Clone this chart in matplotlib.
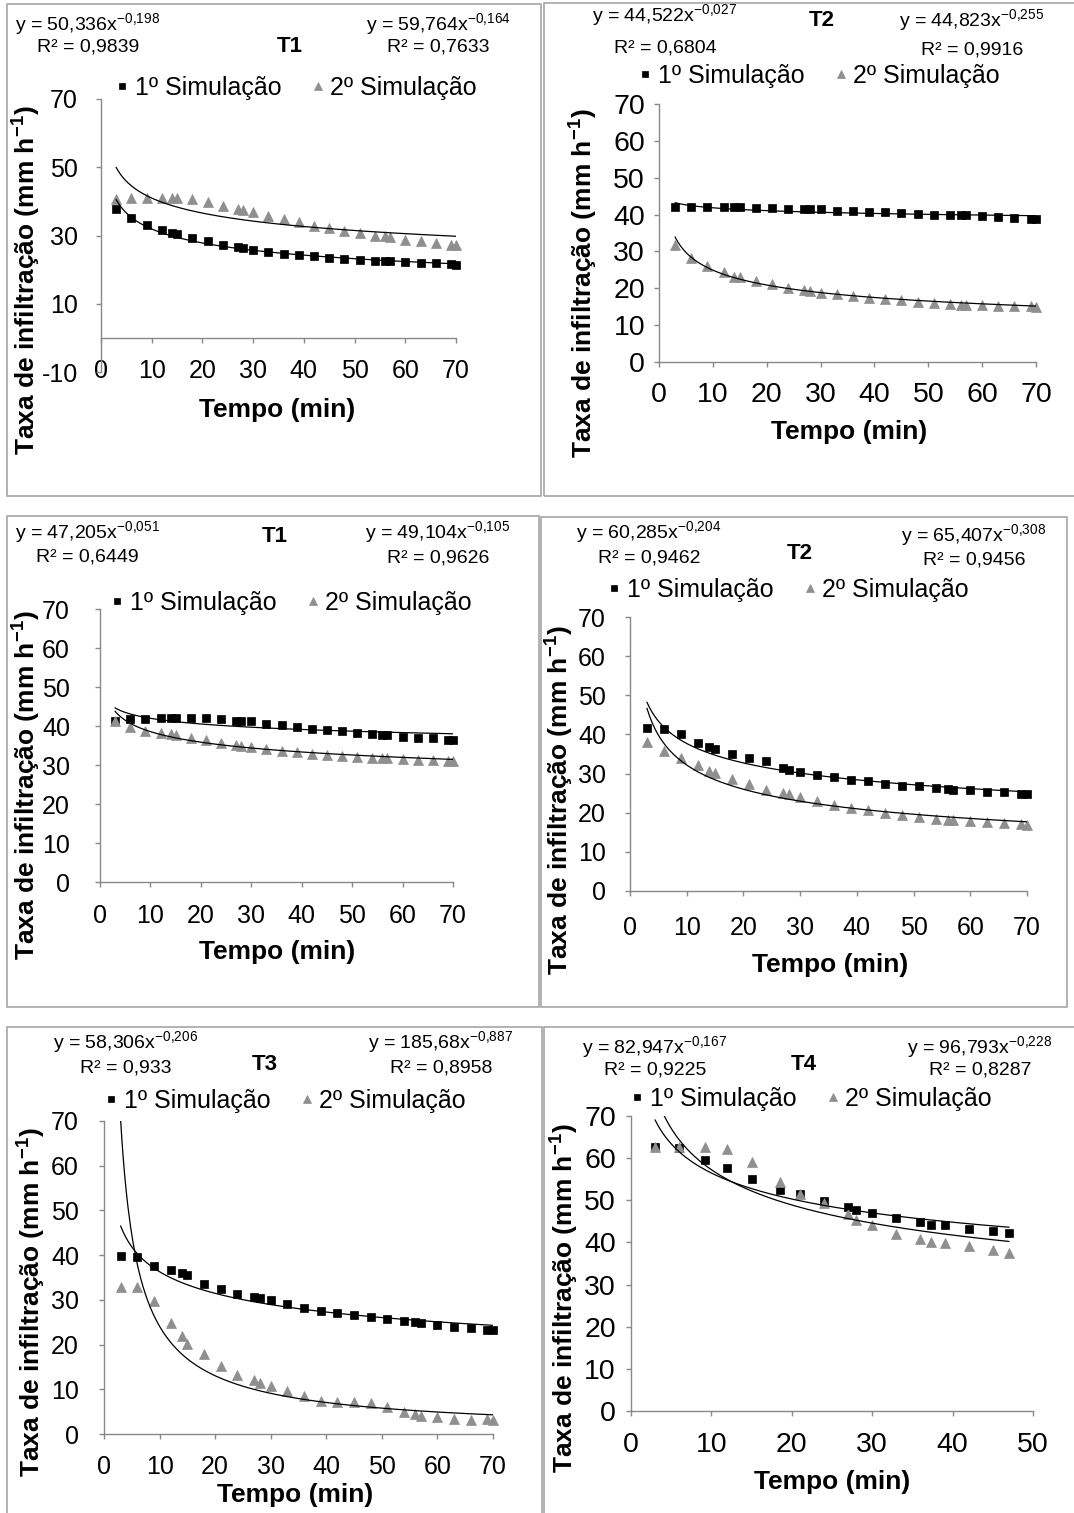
import numpy as np
import matplotlib.pyplot as plt
from matplotlib.patches import Rectangle

plt.rcParams['font.family'] = ['Liberation Sans', 'DejaVu Sans']
plt.rcParams['mathtext.fontset'] = 'custom'
plt.rcParams['mathtext.rm'] = 'Liberation Sans'
plt.rcParams['mathtext.bf'] = 'Liberation Sans:bold'
plt.rcParams['axes.unicode_minus'] = False

W, H = 1074, 1513

# sampling times (min)
tempo = [3, 6, 9, 12, 14, 15, 18, 21, 24, 27, 28, 30, 33, 36, 39, 42, 45, 48,
         51, 54, 56, 57, 60, 63, 66, 69, 70]
tempo_t4 = [3, 6, 9.25, 12, 15, 18.5, 21, 24, 27, 28, 30, 33, 36, 37.3, 39,
            42, 45, 47]

# infiltration rates (mm/h), 1st and 2nd simulation
t1a_sim1 = [37.7, 35.0, 33.0, 31.6, 30.8, 30.3, 29.2, 28.3, 27.3, 26.5, 26.2,
            25.7, 25.1, 24.7, 24.2, 23.9, 23.5, 23.2, 22.9, 22.6, 22.5, 22.4,
            22.2, 22.0, 21.8, 21.6, 21.5]
t1a_sim2 = [40.7, 41.0, 41.0, 41.0, 41.0, 41.0, 40.6, 39.7, 38.5, 37.8, 37.4,
            36.8, 35.7, 34.7, 34.0, 32.9, 32.1, 31.4, 30.8, 30.0, 29.8, 29.7,
            28.8, 28.3, 27.7, 27.3, 27.2]

t2a_sim1 = [42.1, 42.0, 42.0, 42.0, 42.0, 42.0, 41.7, 41.7, 41.4, 41.5, 41.5,
            41.4, 41.1, 41.1, 40.8, 40.8, 40.5, 40.2, 39.9, 39.8, 39.8, 39.8,
            39.5, 39.3, 39.0, 38.7, 38.7]
t2a_sim2 = [31.7, 28.2, 26.0, 24.4, 23.1, 23.0, 21.9, 21.2, 20.2, 19.4, 19.2,
            18.8, 18.4, 17.8, 17.4, 17.0, 16.7, 16.3, 16.1, 15.8, 15.6, 15.6,
            15.4, 15.3, 15.2, 15.1, 15.0]

t1b_sim1 = [41.3, 41.8, 41.8, 42.0, 42.0, 42.0, 42.0, 42.0, 41.8, 41.4, 41.2,
            41.2, 40.5, 40.2, 39.8, 39.3, 39.0, 38.7, 38.2, 37.9, 37.7, 37.7,
            37.3, 37.0, 36.8, 36.5, 36.3]
t1b_sim2 = [41.2, 39.8, 38.8, 38.3, 38.0, 37.7, 36.9, 36.3, 35.6, 35.1, 35.0,
            34.6, 34.0, 33.7, 33.3, 32.8, 32.5, 32.2, 32.0, 31.8, 31.7, 31.7,
            31.5, 31.3, 31.2, 31.1, 31.0]

t2b_sim1 = [41.7, 41.4, 40.0, 37.9, 36.7, 36.3, 35.1, 34.0, 33.3, 31.3, 31.0,
            30.4, 29.7, 29.2, 28.4, 28.1, 27.4, 26.9, 26.7, 26.4, 26.1, 25.9,
            25.7, 25.4, 25.2, 24.9, 24.9]
t2b_sim2 = [38.1, 35.7, 34.1, 32.3, 30.6, 30.2, 28.5, 27.4, 25.8, 25.1, 24.7,
            24.1, 23.0, 22.0, 21.3, 20.6, 19.9, 19.4, 18.8, 18.4, 18.2, 18.1,
            17.8, 17.6, 17.3, 17.1, 16.9]

t3_sim1 = [39.8, 39.6, 37.6, 36.6, 36.1, 35.5, 33.5, 32.4, 31.3, 30.7, 30.5,
           30.0, 29.1, 28.1, 27.6, 27.1, 26.6, 26.2, 25.7, 25.2, 25.0, 24.8,
           24.3, 24.0, 23.7, 23.3, 23.3]
t3_sim2 = [32.8, 32.8, 29.8, 24.8, 21.9, 20.1, 17.9, 15.3, 13.2, 12.0, 11.4,
           10.8, 9.7, 8.4, 7.3, 7.2, 7.2, 6.9, 6.1, 4.9, 4.5, 4.1, 3.8, 3.3,
           3.2, 3.3, 3.2]

t4_sim1 = [62.6, 62.4, 59.6, 57.6, 55.1, 52.5, 51.5, 49.9, 48.4, 47.8, 46.9,
           45.9, 44.9, 44.2, 44.1, 43.3, 42.8, 42.2]
t4_sim2 = [62.6, 62.6, 62.6, 62.1, 59.0, 54.3, 51.6, 49.4, 46.7, 45.4, 44.2,
           42.1, 40.8, 40.2, 39.9, 39.1, 38.2, 37.5]

# power trendlines y = a x^b as printed on the chart
a_sim1 = [50.336, 44.522, 47.205, 60.285, 58.306, 82.947]
b_sim1 = [-0.198, -0.027, -0.051, -0.204, -0.206, -0.167]
r2_sim1 = ['0,9839', '0,6804', '0,6449', '0,9462', '0,933', '0,9225']
a_sim2 = [59.764, 44.823, 49.104, 65.407, 185.68, 96.793]
b_sim2 = [-0.164, -0.255, -0.105, -0.308, -0.887, -0.228]
r2_sim2 = ['0,7633', '0,9916', '0,9626', '0,9456', '0,8958', '0,8287']

titles = ['T1', 'T2', 'T1', 'T2', 'T3', 'T4']
times = [tempo, tempo, tempo, tempo, tempo, tempo_t4]
sim1 = [t1a_sim1, t2a_sim1, t1b_sim1, t2b_sim1, t3_sim1, t4_sim1]
sim2 = [t1a_sim2, t2a_sim2, t1b_sim2, t2b_sim2, t3_sim2, t4_sim2]

# layout in pixels: plot area, frame box, text spots (ts = tick font size)
layout = [
    dict(x0=101, x1=456, yt=99, yb=372, ymin=-10, xmax=70, ystep=20, ts=18,
         box=(7, 4, 541, 496), eqL=(88, 24, 47), eqR=(438, 24, 47), tit=(290, 47),
         leg=(122, 88), xlab=(277, 410), ylab=(27, 280), ygap=23, xoff=30),
    dict(x0=659, x1=1036, yt=104, yb=362, ymin=0, xmax=70, ystep=10, ts=20.5,
         box=(544, 3, 1080, 496), eqL=(665, 15, 48), eqR=(972, 20, 50), tit=(822, 20),
         leg=(645, 76), xlab=(849, 432), ylab=(584, 283), ygap=14, xoff=31),
    dict(x0=100, x1=453, yt=609, yb=882, ymin=0, xmax=70, ystep=10, ts=18,
         box=(7, 516, 539, 1007), eqL=(87, 532, 557), eqR=(438, 532, 558), tit=(275, 537),
         leg=(117, 603), xlab=(277, 952), ylab=(27, 785), ygap=30, xoff=31),
    dict(x0=630, x1=1027, yt=617, yb=891, ymin=0, xmax=70, ystep=10, ts=18,
         box=(541, 517, 1067, 1007), eqL=(649, 532, 558), eqR=(974, 535, 560), tit=(800, 553),
         leg=(614, 590), xlab=(830, 965), ylab=(560, 800), ygap=24, xoff=34),
    dict(x0=104, x1=493, yt=1121, yb=1434, ymin=0, xmax=70, ystep=10, ts=18,
         box=(7, 1027, 542, 1530), eqL=(126, 1042, 1068), eqR=(441, 1042, 1068), tit=(265, 1065),
         leg=(111, 1101), xlab=(295, 1495), ylab=(32, 1302), ygap=25, xoff=30),
    dict(x0=631, x1=1033, yt=1116, yb=1411, ymin=0, xmax=50, ystep=10, ts=20.5,
         box=(544, 1027, 1080, 1530), eqL=(655, 1047, 1070), eqR=(980, 1047, 1070), tit=(804, 1065),
         leg=(637, 1099), xlab=(832, 1482), ylab=(565, 1298), ygap=15, xoff=32),
]

PT = 100 / 72.0  # px per point
axis_gray = '#898989'
tri_gray = '#8f8f8f'


def fx(px):
    return px / W


def fy(py):
    return 1 - py / H


def eq_text(a, b):
    a_s = f'{a:g}'.replace('.', ',')
    b_s = f'{b:g}'.replace('.', '{,}')
    return 'y = ' + a_s + 'x$\\mathregular{^{' + b_s + '}}$'


fig = plt.figure(figsize=(W / 100, H / 100), dpi=100)

for i, L in enumerate(layout):
    bx0, by0, bx1, by1 = L['box']
    fig.add_artist(Rectangle((fx(bx0), fy(by1)), (bx1 - bx0) / W, (by1 - by0) / H,
                             transform=fig.transFigure, fill=False,
                             ec='#a6a6a6', lw=1.2))

    ax = fig.add_axes([fx(L['x0']), fy(L['yb']), (L['x1'] - L['x0']) / W,
                       (L['yb'] - L['yt']) / H])
    ax.set_xlim(0, L['xmax'])
    ax.set_ylim(L['ymin'], 70)
    ax.set_xticks(np.arange(0, L['xmax'] + 1, 10))
    ax.set_yticks(np.arange(L['ymin'], 71, L['ystep']))
    ax.patch.set_alpha(0)
    for s in ['top', 'right']:
        ax.spines[s].set_visible(False)
    ax.spines['bottom'].set_position(('data', 0))
    for s in ['left', 'bottom']:
        ax.spines[s].set_color(axis_gray)
        ax.spines[s].set_linewidth(1)
    tl = 5
    ts_px = L['ts'] * PT
    ax.tick_params(direction='out', length=tl / PT, width=1, color=axis_gray,
                   labelsize=L['ts'])
    ax.tick_params(axis='y', pad=(L['ygap'] - tl) / PT)
    ax.tick_params(axis='x', pad=(L['xoff'] - tl - 0.37 * ts_px) / PT)

    t = times[i]
    h1, = ax.plot(t, sim1[i], ls='none', marker='s', ms=6, mfc='black',
                  mec='black', mew=0.5, clip_on=False, label='1º Simulação')
    h2, = ax.plot(t, sim2[i], ls='none', marker='^', ms=7.5, mfc=tri_gray,
                  mec=tri_gray, mew=0.5, clip_on=False, label='2º Simulação')

    xs = np.linspace(min(t), max(t), 300)
    ax.plot(xs, a_sim1[i] * xs ** b_sim1[i], color='black', lw=0.9)
    ax.plot(xs, a_sim2[i] * xs ** b_sim2[i], color='black', lw=0.9)

    lx, ly = L['leg']
    ax.legend(handles=[h1, h2], loc='center left',
              bbox_to_anchor=(fx(lx - 6), fy(ly)), bbox_transform=fig.transFigure,
              frameon=False, fontsize=18, handlelength=0.5, handletextpad=0.25,
              columnspacing=1.2, ncol=2, borderpad=0, borderaxespad=0,
              markerscale=0.8)

    # trendline equations
    cx, y1, y2 = L['eqL']
    fig.text(fx(cx), fy(y1), eq_text(a_sim1[i], b_sim1[i]), ha='center',
             va='center', fontsize=14)
    fig.text(fx(cx), fy(y2), 'R² = ' + r2_sim1[i], ha='center', va='center',
             fontsize=14)
    cx, y1, y2 = L['eqR']
    fig.text(fx(cx), fy(y1), eq_text(a_sim2[i], b_sim2[i]), ha='center',
             va='center', fontsize=14)
    fig.text(fx(cx), fy(y2), 'R² = ' + r2_sim2[i], ha='center', va='center',
             fontsize=14)

    tx, ty = L['tit']
    fig.text(fx(tx), fy(ty), titles[i], ha='center', va='center',
             fontsize=16, fontweight='bold')

    xx, xy = L['xlab']
    fig.text(fx(xx), fy(xy), 'Tempo (min)', ha='center', va='center',
             fontsize=19, fontweight='bold')
    yx, yy = L['ylab']
    fig.text(fx(yx), fy(yy), 'Taxa de infiltração (mm h$\\mathregular{^{-1}}$)',
             ha='center', va='center', rotation=90, fontsize=19,
             fontweight='bold')

fig.savefig('out.png', dpi=100)
